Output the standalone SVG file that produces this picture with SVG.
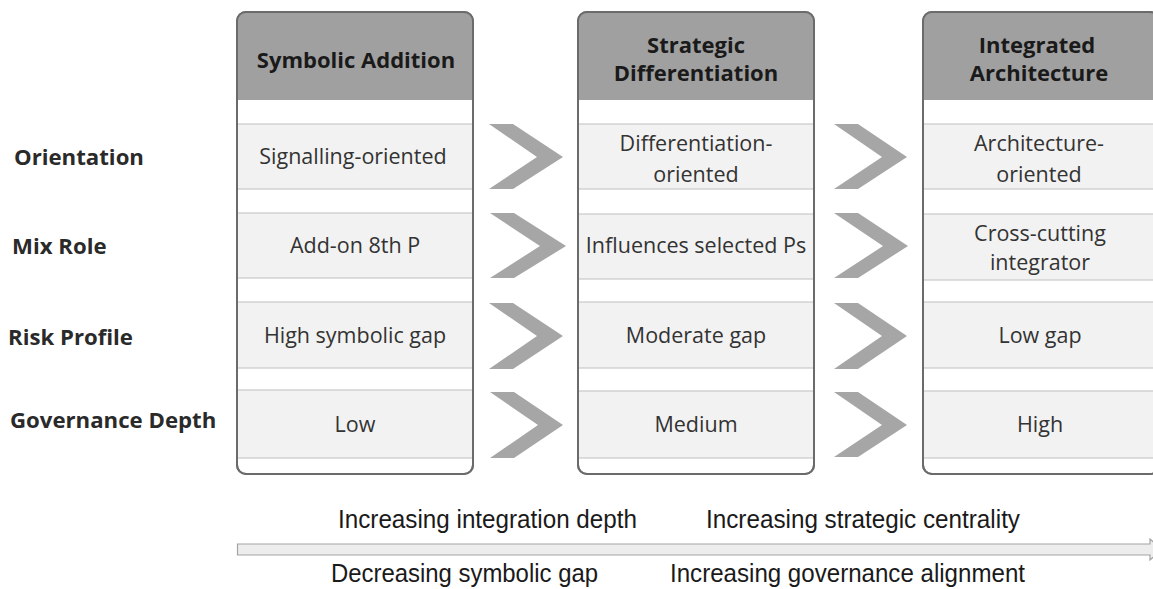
<svg xmlns="http://www.w3.org/2000/svg" width="1153" height="589" viewBox="0 0 1153 589">
<defs>
<style>
.col{fill:#ffffff;stroke:#6b6b6b;stroke-width:2}
.hdr{fill:#a0a0a0}
.band{fill:#f2f2f2;stroke:#c9c9c9;stroke-width:1.2}
.chev{fill:#a6a6a6}
.ht{font-family:"Open Sans",sans-serif;font-weight:bold;font-size:22px;fill:#1a1a1a;text-anchor:middle}
.ct{font-family:"Open Sans",sans-serif;font-size:21.5px;fill:#333333;text-anchor:middle}
.rl{font-family:"Open Sans",sans-serif;font-weight:bold;font-size:22.2px;fill:#2a2a2a}
.bt{font-family:"Liberation Sans",Arial,sans-serif;font-size:25px;fill:#1a1a1a}
</style>
<clipPath id="c1"><rect x="237" y="12" width="236" height="462" rx="9"/></clipPath>
<clipPath id="c2"><rect x="578" y="12" width="236" height="462" rx="9"/></clipPath>
<clipPath id="c3"><rect x="923" y="12" width="236" height="462" rx="9"/></clipPath>
</defs>
<rect width="1153" height="589" fill="#ffffff"/>

<g id="row-labels">
<text class="rl" x="14" y="165">Orientation</text>
<text class="rl" x="12" y="254">Mix Role</text>
<text class="rl" x="8" y="345">Risk Profile</text>
<text class="rl" x="10" y="428">Governance Depth</text>
</g>

<g id="col-symbolic-addition">
<rect class="col" x="237" y="12" width="236" height="462" rx="9"/>
<g clip-path="url(#c1)">
<rect class="hdr" x="237" y="12" width="236" height="88"/>
<rect class="band" x="237" y="124" width="236" height="65"/>
<rect class="band" x="237" y="213" width="236" height="65"/>
<rect class="band" x="237" y="302" width="236" height="66"/>
<rect class="band" x="237" y="390" width="236" height="68"/>
</g>
<rect x="237" y="12" width="236" height="462" rx="9" fill="none" stroke="#6b6b6b" stroke-width="2"/>
<text class="ht" x="356" y="68">Symbolic Addition</text>
<text class="ct" x="353" y="164">Signalling-oriented</text>
<text class="ct" x="355" y="253">Add-on 8th P</text>
<text class="ct" x="355" y="343">High symbolic gap</text>
<text class="ct" x="355" y="432">Low</text>
</g>

<g id="col-strategic-differentiation">
<rect class="col" x="578" y="12" width="236" height="462" rx="9"/>
<g clip-path="url(#c2)">
<rect class="hdr" x="578" y="12" width="236" height="88"/>
<rect class="band" x="578" y="124" width="236" height="65"/>
<rect class="band" x="578" y="214" width="236" height="65"/>
<rect class="band" x="578" y="302" width="236" height="66"/>
<rect class="band" x="578" y="391" width="236" height="67"/>
</g>
<rect x="578" y="12" width="236" height="462" rx="9" fill="none" stroke="#6b6b6b" stroke-width="2"/>
<text class="ht" x="696" y="53">Strategic</text>
<text class="ht" x="696" y="81">Differentiation</text>
<text class="ct" x="696" y="151">Differentiation-</text>
<text class="ct" x="696" y="182">oriented</text>
<text class="ct" x="696" y="253">Influences selected Ps</text>
<text class="ct" x="696" y="343">Moderate gap</text>
<text class="ct" x="696" y="432">Medium</text>
</g>

<g id="col-integrated-architecture">
<rect class="col" x="923" y="12" width="236" height="462" rx="9"/>
<g clip-path="url(#c3)">
<rect class="hdr" x="923" y="12" width="236" height="88"/>
<rect class="band" x="923" y="124" width="236" height="65"/>
<rect class="band" x="923" y="214" width="236" height="66"/>
<rect class="band" x="923" y="302" width="236" height="66"/>
<rect class="band" x="923" y="391" width="236" height="67"/>
</g>
<rect x="923" y="12" width="236" height="462" rx="9" fill="none" stroke="#6b6b6b" stroke-width="2"/>
<text class="ht" x="1037" y="53">Integrated</text>
<text class="ht" x="1039" y="81">Architecture</text>
<text class="ct" x="1039" y="151">Architecture-</text>
<text class="ct" x="1039" y="182">oriented</text>
<text class="ct" x="1040" y="241">Cross-cutting</text>
<text class="ct" x="1040" y="270">integrator</text>
<text class="ct" x="1040" y="343">Low gap</text>
<text class="ct" x="1040" y="432">High</text>
</g>

<g id="connectors">
<polygon class="chev" points="489,124 513,124 563,157 513,189 489,189 537,157"/>
<polygon class="chev" points="490,213 514,213 566,246 514,278 490,278 540,246"/>
<polygon class="chev" points="489,303 513,303 563,336 513,369 489,369 537,336"/>
<polygon class="chev" points="490,392 514,392 563,425 514,458 490,458 538,425"/>
<polygon class="chev" points="834,124 858,124 907,157 858,189 834,189 882,157"/>
<polygon class="chev" points="834,213 858,213 908,246 858,278 834,278 883,246"/>
<polygon class="chev" points="834,303 858,303 907,336 858,369 834,369 882,336"/>
<polygon class="chev" points="834,392 858,392 907,425 858,457 834,457 882,425"/>
<polygon points="237.5,544 1150,544 1150,539 1162,549.5 1150,560 1150,555 237.5,555" fill="#ededed" stroke="#a3a3a3" stroke-width="1.2"/>
</g>

<g id="axis-labels">
<text class="bt" x="338" y="528" textLength="299" lengthAdjust="spacingAndGlyphs">Increasing integration depth</text>
<text class="bt" x="706" y="528" textLength="314" lengthAdjust="spacingAndGlyphs">Increasing strategic centrality</text>
<text class="bt" x="331" y="582" textLength="267" lengthAdjust="spacingAndGlyphs">Decreasing symbolic gap</text>
<text class="bt" x="670" y="582" textLength="355" lengthAdjust="spacingAndGlyphs">Increasing governance alignment</text>
</g>
</svg>
